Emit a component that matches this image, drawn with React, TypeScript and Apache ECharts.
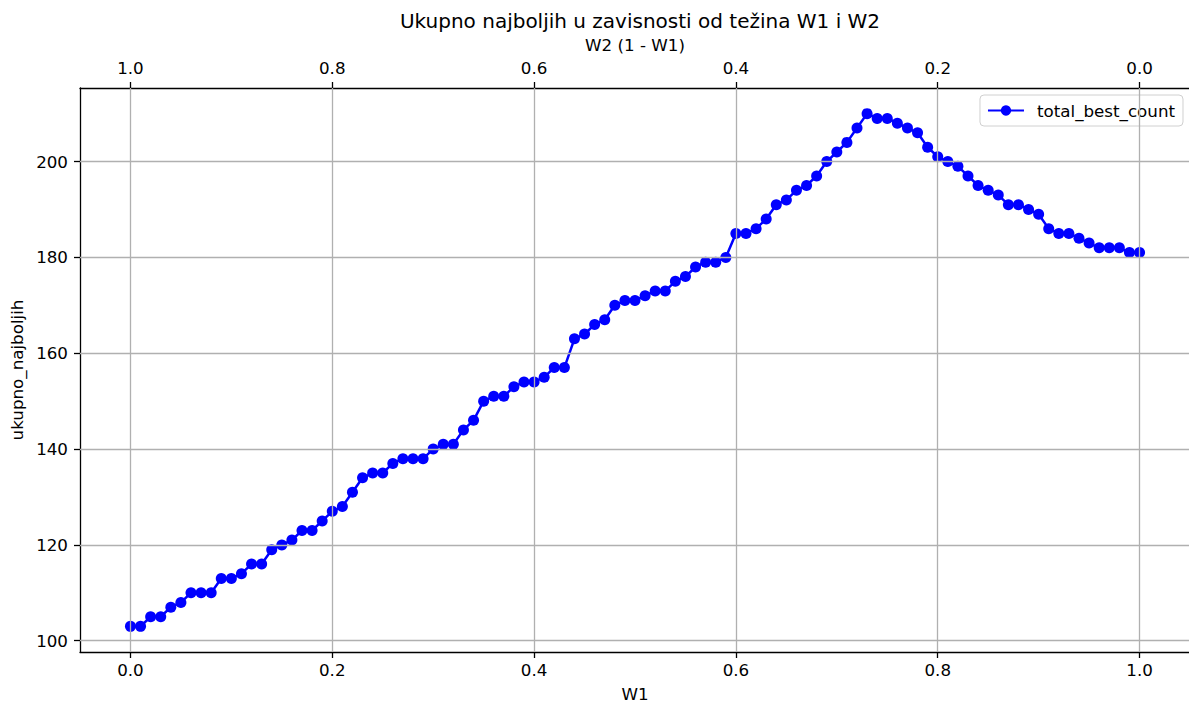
import React, { useEffect, useRef } from "react";
import * as echarts from "echarts";

const w1Values: number[] = [
  0.0, 0.01, 0.02, 0.03, 0.04, 0.05, 0.06, 0.07, 0.08, 0.09,
  0.1, 0.11, 0.12, 0.13, 0.14, 0.15, 0.16, 0.17, 0.18, 0.19,
  0.2, 0.21, 0.22, 0.23, 0.24, 0.25, 0.26, 0.27, 0.28, 0.29,
  0.3, 0.31, 0.32, 0.33, 0.34, 0.35, 0.36, 0.37, 0.38, 0.39,
  0.4, 0.41, 0.42, 0.43, 0.44, 0.45, 0.46, 0.47, 0.48, 0.49,
  0.5, 0.51, 0.52, 0.53, 0.54, 0.55, 0.56, 0.57, 0.58, 0.59,
  0.6, 0.61, 0.62, 0.63, 0.64, 0.65, 0.66, 0.67, 0.68, 0.69,
  0.7, 0.71, 0.72, 0.73, 0.74, 0.75, 0.76, 0.77, 0.78, 0.79,
  0.8, 0.81, 0.82, 0.83, 0.84, 0.85, 0.86, 0.87, 0.88, 0.89,
  0.9, 0.91, 0.92, 0.93, 0.94, 0.95, 0.96, 0.97, 0.98, 0.99,
  1.0,
];
const totalBestCount: number[] = [
  103, 103, 105, 105, 107, 108, 110, 110, 110, 113,
  113, 114, 116, 116, 119, 120, 121, 123, 123, 125,
  127, 128, 131, 134, 135, 135, 137, 138, 138, 138,
  140, 141, 141, 144, 146, 150, 151, 151, 153, 154,
  154, 155, 157, 157, 163, 164, 166, 167, 170, 171,
  171, 172, 173, 173, 175, 176, 178, 179, 179, 180,
  185, 185, 186, 188, 191, 192, 194, 195, 197, 200,
  202, 204, 207, 210, 209, 209, 208, 207, 206, 203,
  201, 200, 199, 197, 195, 194, 193, 191, 191, 190,
  189, 186, 185, 185, 184, 183, 182, 182, 182, 181,
  181,
];
const xTicks: number[] = [0, 0.2, 0.4, 0.6, 0.8, 1.0];
const yTicks: number[] = [100, 120, 140, 160, 180, 200];

const FONT = "'DejaVu Sans', 'Noto Sans', sans-serif";
const FS = 16.7;

export default function App() {
  const ref = useRef<HTMLDivElement>(null);
  useEffect(() => {
    if (!ref.current) return;
    const chart = echarts.init(ref.current, null, { renderer: "svg" });
    const yMinD = Math.min(...totalBestCount);
    const yMaxD = Math.max(...totalBestCount);
    const yPad = (yMaxD - yMinD) * 0.05;
    const data = w1Values.map((x, i) => [x, totalBestCount[i]]);
    const gridColor = "#b0b0b0";
    const gridLines = [
      ...xTicks.map((v) => ({ xAxis: v })),
      ...yTicks.map((v) => ({ yAxis: v })),
    ];
    chart.setOption({
      animation: false,
      textStyle: { fontFamily: FONT },
      title: {
        text: "Ukupno najboljih u zavisnosti od težina W1 i W2",
        left: 635,
        textAlign: "center",
        top: 6,
        textStyle: { fontFamily: FONT, fontSize: 20, fontWeight: "normal", color: "#000" },
      },
      legend: {
        right: 6,
        top: 95,
        orient: "vertical",
        itemWidth: 36,
        itemHeight: 13,
        itemGap: 0,
        padding: [7, 8, 7, 7],
        borderColor: "#d0d0d0",
        borderWidth: 1,
        borderRadius: 4,
        backgroundColor: "rgba(255,255,255,0.8)",
        textStyle: { fontFamily: FONT, fontSize: FS, color: "#000", padding: [0, 0, 0, 8] },
        data: ["total_best_count"],
      },
      grid: { left: 80, right: -1, top: 88, bottom: 52, containLabel: false, outerBoundsMode: "none" },
      xAxis: [
        {
          type: "value",
          position: "bottom",
          min: -0.05,
          max: 1.05,
          name: "W1",
          nameLocation: "middle",
          nameGap: 33,
          nameTextStyle: { fontFamily: FONT, fontSize: FS, color: "#000" },
          axisLine: { show: true, onZero: false, lineStyle: { color: "#000", width: 1.3 } },
          axisTick: { show: true, customValues: xTicks, length: 6, lineStyle: { color: "#000", width: 1.3 } },
          axisLabel: {
            customValues: xTicks,
            formatter: (v: number) => v.toFixed(1),
            fontFamily: FONT,
            fontSize: FS,
            color: "#000",
            margin: 9,
          },
          splitLine: { show: false },
        },
        {
          type: "value",
          position: "top",
          min: -0.05,
          max: 1.05,
          name: "W2 (1 - W1)",
          nameLocation: "middle",
          nameGap: 35,
          nameTextStyle: { fontFamily: FONT, fontSize: FS, color: "#000" },
          axisLine: { show: true, onZero: false, lineStyle: { color: "#000", width: 1.3 } },
          axisTick: { show: true, customValues: xTicks, length: 6, lineStyle: { color: "#000", width: 1.3 } },
          axisLabel: {
            customValues: xTicks,
            formatter: (v: number) => Math.abs(1 - v).toFixed(1),
            fontFamily: FONT,
            fontSize: FS,
            color: "#000",
            margin: 12,
          },
          splitLine: { show: false },
        },
      ],
      yAxis: {
        type: "value",
        min: yMinD - yPad,
        max: yMaxD + yPad,
        name: "ukupno_najboljih",
        nameLocation: "middle",
        nameGap: 49,
        nameTextStyle: { fontFamily: FONT, fontSize: FS, color: "#000" },
        axisLine: { show: true, onZero: false, lineStyle: { color: "#000", width: 1.3 } },
        axisTick: { show: true, customValues: yTicks, length: 6, lineStyle: { color: "#000", width: 1.3 } },
        axisLabel: {
          customValues: yTicks,
          formatter: (v: number) => String(v),
          fontFamily: FONT,
          fontSize: FS,
          color: "#000",
          margin: 12,
        },
        splitLine: { show: false },
      },
      series: [
        {
          type: "line",
          name: "_grid",
          data: [],
          z: 1,
          silent: true,
          markLine: {
            silent: true,
            symbol: ["none", "none"],
            label: { show: false },
            lineStyle: { color: gridColor, width: 1.3, type: "solid" },
            emphasis: { disabled: true },
            data: gridLines,
          },
        },
        {
          type: "line",
          name: "total_best_count",
          data,
          z: 3,
          color: "#0000ff",
          symbol: "circle",
          symbolSize: 11,
          showAllSymbol: true,
          lineStyle: { color: "#0000ff", width: 2.5 },
          itemStyle: { color: "#0000ff" },
        },
      ],
    });
    return () => chart.dispose();
  }, []);
  return (
    <div
      ref={ref}
      style={{ position: "fixed", left: 0, top: 0, width: 1189, height: 704, background: "#fff" }}
    />
  );
}
